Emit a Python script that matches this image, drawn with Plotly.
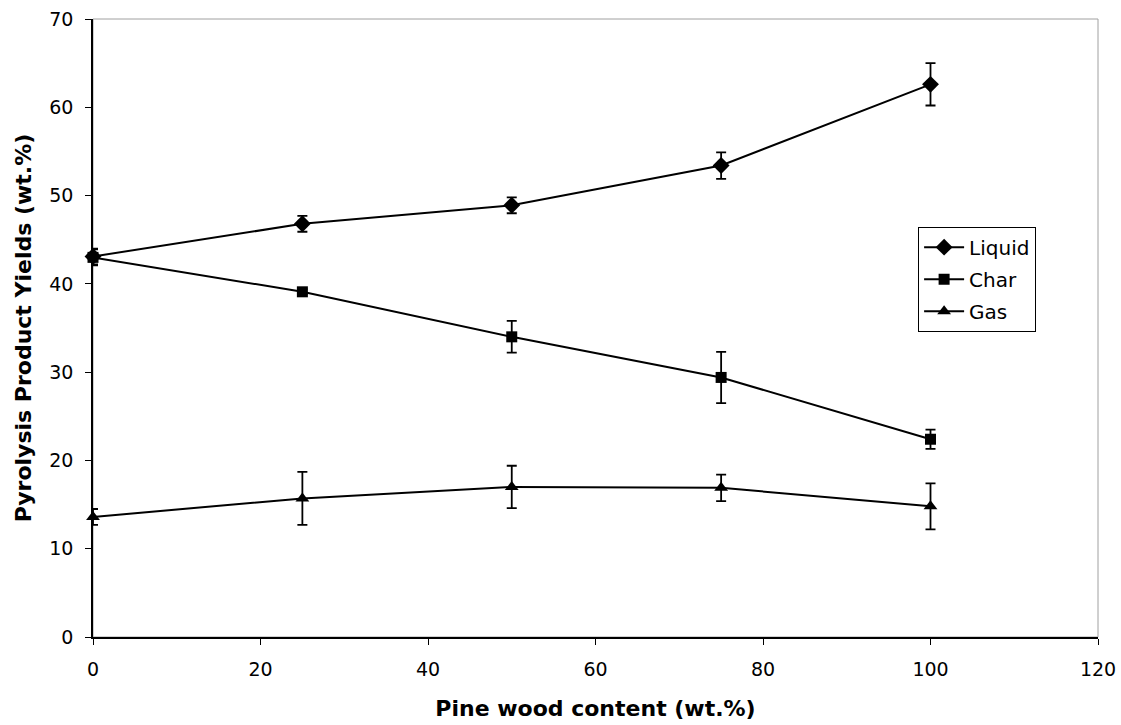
import plotly.graph_objects as go

# Pine wood content in the blend (wt.%)
pine = [0, 25, 50, 75, 100]

# Product yields (wt.%) and their error margins
liquid = [43.1, 46.8, 48.9, 53.4, 62.6]
liquid_err = [0.9, 0.9, 0.9, 1.5, 2.4]
char = [43.0, 39.1, 34.0, 29.4, 22.4]
char_err = [0.9, 0.3, 1.8, 2.9, 1.1]
gas = [13.6, 15.7, 17.0, 16.9, 14.8]
gas_err = [0.9, 3.0, 2.4, 1.5, 2.6]

series = [
    ("Liquid", liquid, liquid_err, "diamond", 13),
    ("Char", char, char_err, "square", 11),
    ("Gas", gas, gas_err, "triangle-up", 12),
]

fig = go.Figure()
for name, vals, err, sym, size in series:
    fig.add_trace(go.Scatter(
        x=pine, y=vals, name=name, legendgroup=name, mode="lines+markers",
        cliponaxis=False,
        line=dict(color="black", width=2),
        marker=dict(symbol=sym, size=size, color="black"),
        error_y=dict(type="data", array=err, visible=True,
                     color="black", thickness=1.8, width=5),
    ))

font = "DejaVu Sans, Liberation Sans, Arial, sans-serif"

fig.update_layout(
    width=1121, height=725,
    margin=dict(l=93, r=23, t=19, b=88),
    plot_bgcolor="white", paper_bgcolor="white",
    font=dict(family=font, size=19, color="black"),
    showlegend=True,
    legend=dict(
        x=0.821, y=0.664, xanchor="left", yanchor="top",
        bordercolor="black", borderwidth=1, bgcolor="white",
        font=dict(size=20), itemwidth=40,
        traceorder="grouped", tracegroupgap=3,
    ),
    shapes=[dict(type="rect", xref="paper", yref="paper", x0=0, y0=0, x1=1, y1=1,
                 line=dict(color="#a0a0a0", width=1), layer="below")],
    xaxis=dict(
        range=[0, 120], tickvals=[0, 20, 40, 60, 80, 100, 120], automargin=False,
        showgrid=False, zeroline=False, showline=True, linecolor="black", linewidth=1.5,
        ticks="outside", ticklen=6, tickcolor="black", tickwidth=1,
        tickfont=dict(size=19), ticklabelstandoff=8,
        title=dict(text="<b>Pine wood content (wt.%)</b>", font=dict(size=22), standoff=22),
    ),
    yaxis=dict(
        range=[0, 70], tickvals=[0, 10, 20, 30, 40, 50, 60, 70], automargin=False,
        showgrid=False, zeroline=False, showline=True, linecolor="black", linewidth=1.5,
        ticks="outside", ticklen=6, tickcolor="black", tickwidth=1,
        tickfont=dict(size=19), ticklabelstandoff=8,
        title=dict(text="<b>Pyrolysis Product Yields (wt.%)</b>", font=dict(size=22), standoff=12),
    ),
)

fig.write_html("out.html")
